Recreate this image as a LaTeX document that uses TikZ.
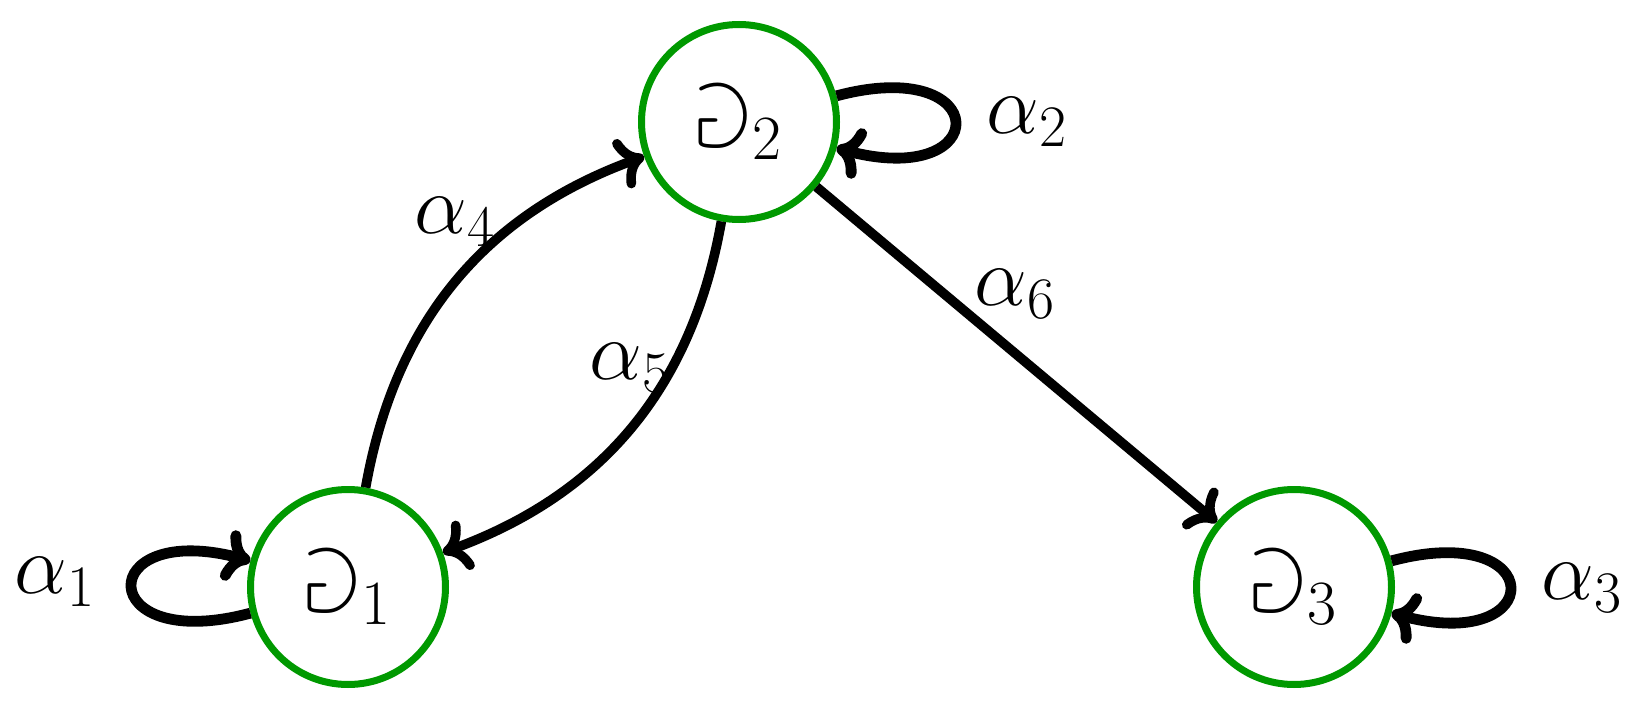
\RequirePackage{fix-cm}
\documentclass[tikz,border=0pt]{standalone}
\usepackage{amssymb}
\usetikzlibrary{arrows.meta}
\definecolor{stategreen}{RGB}{0,153,0}
\begin{document}
\begin{tikzpicture}[x=0.5pt,y=-0.5pt,
  state/.style={circle,draw=stategreen,line width=3.5pt,minimum size=97.5pt,inner sep=0pt,
    font=\fontsize{45}{54}\selectfont},
  trans/.style={-{Computer Modern Rightarrow[length=13pt,width=26pt]},line width=4.8pt},
  selfloop/.style={trans,line width=5.4pt,loop,looseness=8},
  lab/.style={font=\fontsize{42}{50}\selectfont,inner sep=0pt}]
\useasboundingbox (0,0) rectangle (1646,712);
\node[state] (g1) at (348,587) {$\Game_1$};
\node[state] (g2) at (739,122) {$\Game_2$};
\node[state] (g3) at (1294,587) {$\Game_3$};
\draw[selfloop] (g1) to[out=195,in=165] (g1);
\draw[selfloop] (g2) to[out=15,in=-15] (g2);
\draw[selfloop] (g3) to[out=15,in=-15] (g3);
\draw[trans] (g1) to[bend left=30] (g2);
\draw[trans] (g2) to[bend left=30] (g1);
\draw[trans] (g2) -- (g3);
\node[lab] (a1) at (55,582) {$\alpha_1$};
\node[lab] (a2) at (1027,122) {$\alpha_2$};
\node[lab] (a3) at (1582,588) {$\alpha_3$};
\node[lab] (a4) at (455,222) {$\alpha_4$};
\node[lab] (a5) at (630,368) {$\alpha_5$};
\node[lab] (a6) at (1015,294) {$\alpha_6$};
\end{tikzpicture}
\end{document}
